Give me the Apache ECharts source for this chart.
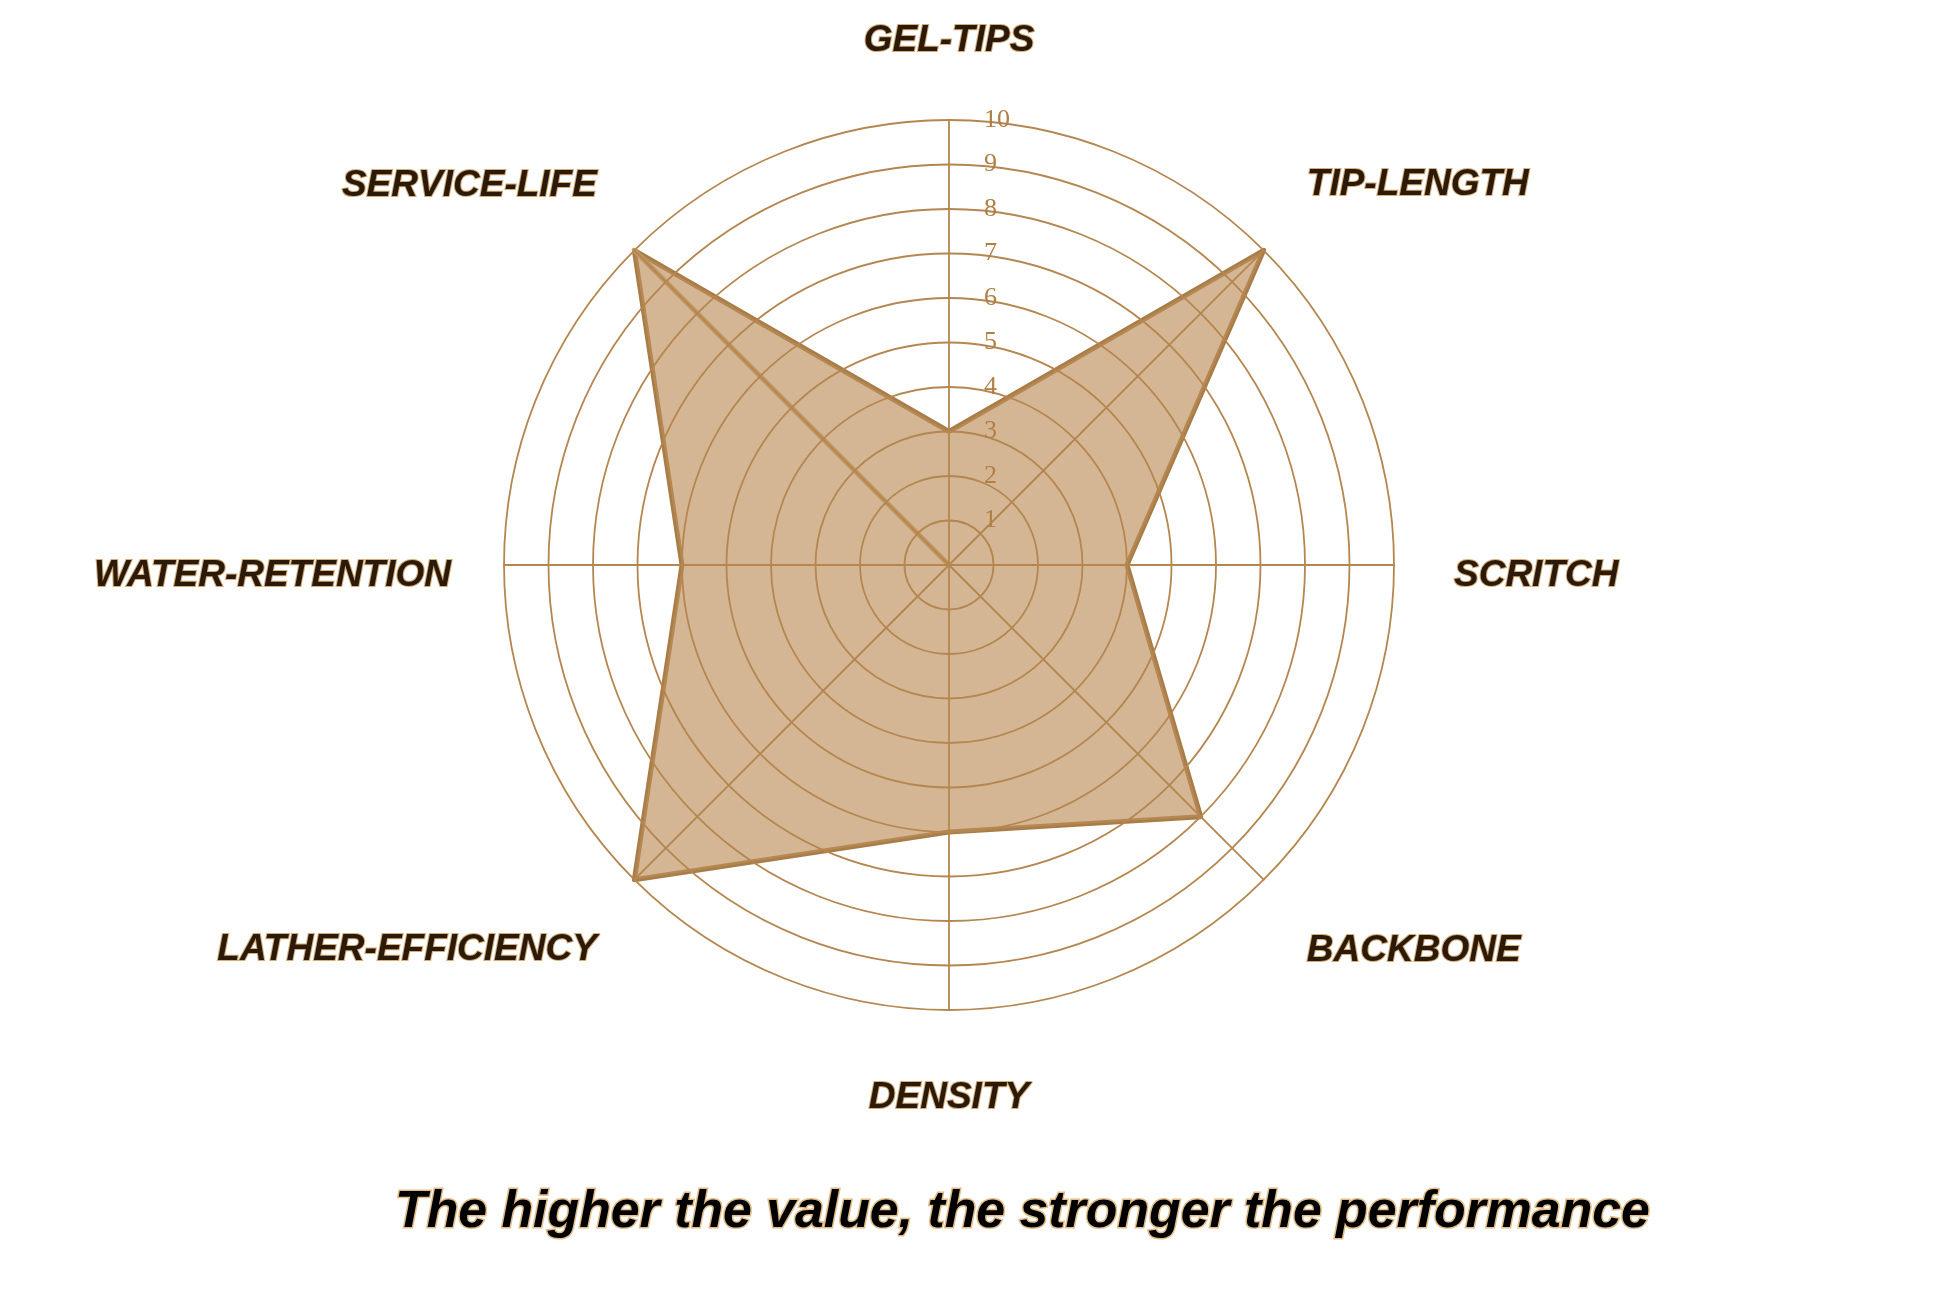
<!DOCTYPE html>
<html>
<head>
<meta charset="utf-8">
<script src="https://cdn.jsdelivr.net/npm/echarts@6/dist/echarts.min.js"></script>
<style>
html,body{margin:0;padding:0;background:#fff;}
#chart{width:1946px;height:1297px;}
</style>
</head>
<body>
<div id="chart"></div>
<script>
// Indicators in ECharts drawing order (start at top, counter-clockwise)
const categories = ['GEL-TIPS', 'SERVICE-LIFE', 'WATER-RETENTION', 'LATHER-EFFICIENCY', 'DENSITY', 'BACKBONE', 'SCRITCH', 'TIP-LENGTH'];
const performance = [3, 10, 6, 10, 6, 8, 4, 10];
const serviceStroke = [0, 10, 0, 0, 0, 0, 0, 0];
const maxValue = 10;
const titleText = 'The higher the value, the stronger the performance';

const gridColor = '#b5864f';

const nameFont = {
  fontFamily: 'Liberation Sans',
  fontStyle: 'italic',
  fontWeight: 'bold',
  fontSize: 37,
  color: '#2b1a0a',
  textBorderColor: '#d6ad78',
  textBorderWidth: 2
};

// label placement style per indicator position (layout only)
function placeKey(i) {
  if (i === 1) return 'upL';
  if (i === 7) return 'upR';
  if (i === 3) return 'downL';
  if (i === 5) return 'downR';
  if (i === 2 || i === 6) return 'side';
  return 'plain';
}
function gapFor(i) {
  if (i === 0) return 61;
  if (i === 4) return 69;
  if (i === 5 || i === 7) return 61;
  if (i === 6) return 60;
  return 53;
}

const chart = echarts.init(document.getElementById('chart'));
const option = {
  backgroundColor: '#ffffff',
  title: {
    text: titleText,
    left: 390,
    top: 1182,
    textStyle: {
      fontFamily: 'Liberation Sans',
      fontStyle: 'italic',
      fontWeight: 'bold',
      fontSize: 51.8,
      color: '#000000',
      textBorderColor: '#e2bd88',
      textBorderWidth: 3
    }
  },
  radar: {
    center: [949, 565],
    radius: 445,
    startAngle: 90,
    splitNumber: 10,
    shape: 'circle',
    z: 5,
    nameGap: 60,
    indicator: categories.map((c, i) => Object.assign(
      { name: c, min: 0, max: maxValue, nameGap: gapFor(i) },
      i === 0 ? { axisLabel: { show: true } } : {}
    )),
    axisName: Object.assign({}, nameFont, {
      formatter: function (name) {
        const i = categories.indexOf(name);
        return '{' + placeKey(i) + '|' + name + '}';
      },
      rich: {
        upL: Object.assign({}, nameFont, { padding: [0, 0, 54, 0] }),
        upR: Object.assign({}, nameFont, { padding: [0, 0, 44, 0] }),
        downL: Object.assign({}, nameFont, { padding: [66, 0, 0, 0] }),
        downR: Object.assign({}, nameFont, { padding: [56, 0, 0, 0] }),
        side: Object.assign({}, nameFont, { padding: [22, 0, 0, 0] }),
        plain: Object.assign({}, nameFont)
      }
    }),
    axisLine: { show: true, lineStyle: { color: gridColor, width: 1.8 } },
    splitLine: { show: true, lineStyle: { color: gridColor, width: 1.8 } },
    splitArea: { show: false },
    axisTick: { show: false },
    axisLabel: {
      show: false,
      showMinLabel: false,
      fontFamily: 'Liberation Serif',
      fontSize: 26,
      color: '#b07f45',
      align: 'left',
      margin: -35
    }
  },
  series: [
    {
      type: 'radar',
      z: 2,
      symbol: 'none',
      data: [{
        value: performance,
        lineStyle: { color: '#a97d48', width: 5 },
        areaStyle: { color: '#bb8d58', opacity: 0.64 }
      }]
    },
    {
      type: 'radar',
      z: 3,
      symbol: 'none',
      data: [{
        value: serviceStroke,
        lineStyle: { color: '#c09763', width: 5 }
      }]
    }
  ]
};
chart.setOption(option);
</script>
</body>
</html>
